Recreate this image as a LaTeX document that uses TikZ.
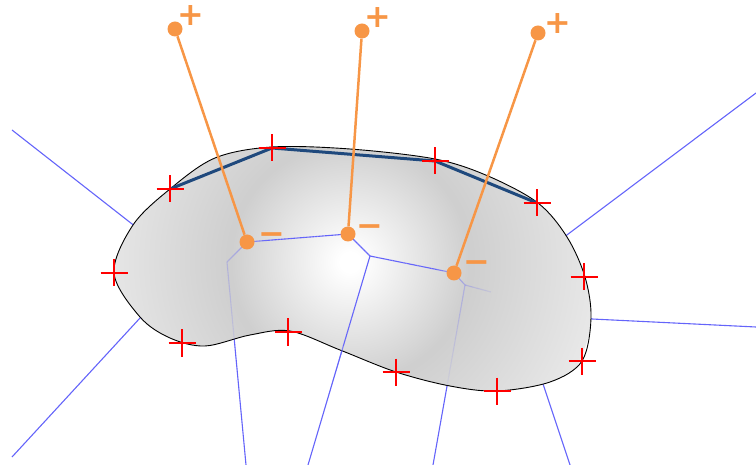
\documentclass[tikz,border=0pt]{standalone}
\usepackage{fontspec}
\newfontfamily\signfont{DejaVu Sans Bold}
\usetikzlibrary{calc}
\definecolor{orng}{RGB}{247,150,70}
\definecolor{vblue}{RGB}{100,100,250}
\definecolor{pblue}{RGB}{31,73,125}
\pgfdeclareradialshading{blobshade}{\pgfpointorigin}{color(0bp)=(white); color(1bp)=(white); color(5bp)=(black!7); color(12bp)=(black!19); color(25bp)=(black!9); color(50bp)=(black!9)}
\tikzset{
  vline/.style={draw=vblue,line width=1.1bp},
  oline/.style={draw=orng,line width=2.5bp},
  pline/.style={draw=pblue,line width=3bp,line join=round},
  dot/.style={circle,fill=orng,minimum size=15bp,inner sep=0pt},
  sign/.style={text=orng,font=\signfont\fontsize{32}{32}\selectfont,inner sep=0pt},
  redplus/.pic={\draw[red,line width=2.6bp] (-13.5,0)--(13.5,0) (0,-13.5)--(0,13.5);}
}
% draws an edge between two named coordinates, fading out away from (ctr)
\newcommand\fadeedge[2]{%
  \foreach \k in {0,...,29}{%
    \pgfmathsetmacro\ta{\k/30}%
    \pgfmathsetmacro\tb{(\k+1)/30}%
    \pgfmathsetmacro\tm{(\k+0.5)/30}%
    \path let \p1=($(#1)!\tm!(#2)$), \p2=(ctr) in
      \pgfextra{\pgfmathparse{min(1,exp(-(veclen(\x1-\x2,\y1-\y2)-85)/28))}\xdef\fadeop{\pgfmathresult}};
    \draw[vline,draw opacity=\fadeop] ($(#1)!\ta!(#2)$) -- ($(#1)!\tb!(#2)$);
  }}
\begin{document}
\begin{tikzpicture}[x=1bp,y=-1bp]
\useasboundingbox (0,0) rectangle (756,465);
\coordinate (ctr) at (350,258);
% Voronoi vertices and ends
\coordinate (H) at (187,267);
\coordinate (A) at (227,262);
\coordinate (D) at (370,256);
\coordinate (F) at (465,285);
\coordinate (G) at (491,292);
\coordinate (TL) at (12,130);
\coordinate (BL) at (12,457);
\coordinate (B1) at (246,465);
\coordinate (B2) at (308,465);
\coordinate (B3) at (433,465);
\coordinate (B4) at (570,465);
\coordinate (R1a) at (592,319);
\coordinate (R1) at (756,327);
\coordinate (B4a) at (543,384);
\coordinate (TR) at (756,93);
% orange point positions
\coordinate (p1) at (175,29);
\coordinate (p2) at (362,31);
\coordinate (p3) at (538,33);
\coordinate (m1) at (247,242);
\coordinate (m2) at (348,234);
\coordinate (m3) at (454,273);
% outer blue lines (under the blob)
\draw[vline] (TL) -- (H) -- (BL);
\draw[vline] (H) -- (A) -- (m1) -- (m2) -- (D) -- (m3) -- (F) -- (G) -- (TR);
\draw[vline] (A) -- (B1);
\draw[vline] (D) -- (B2);
\draw[vline] (F) -- (B3);
\draw[vline] (G) -- (R1a) -- (R1);
\draw[vline] (G) -- (B4a) -- (B4);
% blob
\begin{scope}
\clip plot[smooth cycle, tension=0.55] coordinates {(114,273) (133,225) (170,189) (215,158) (272,147) (350,149) (435,159) (488,176) (538,203) (567,237) (585,277) (591,318) (582,361) (550,382) (497,391) (450,386) (396,372) (340,350) (290,331) (250,335) (205,346) (170,338) (140,317)};
\shade[shading=blobshade] (350,262) circle (250);
\end{scope}
\draw[black,line width=0.9bp] plot[smooth cycle, tension=0.55] coordinates {(114,273) (133,225) (170,189) (215,158) (272,147) (350,149) (435,159) (488,176) (538,203) (567,237) (585,277) (591,318) (582,361) (550,382) (497,391) (450,386) (396,372) (340,350) (290,331) (250,335) (205,346) (170,338) (140,317)};
% interior blue lines, faded away from the centre
\fadeedge{A}{m1}
\fadeedge{m1}{m2}
\fadeedge{m2}{D}
\fadeedge{D}{m3}
\fadeedge{m3}{F}
\fadeedge{F}{G}
\fadeedge{A}{B1}
\fadeedge{D}{B2}
\fadeedge{F}{B3}
% boundary points
\coordinate (c1) at (170,189);
\coordinate (c2) at (272,148);
\coordinate (c3) at (435,161);
\coordinate (c4) at (537,203);
\coordinate (c5) at (584,277);
\coordinate (c6) at (582,361);
\coordinate (c7) at (497,391);
\coordinate (c8) at (396,372);
\coordinate (c9) at (288,332);
\coordinate (c10) at (182,343);
\coordinate (c11) at (114,273);
\draw[pline] (c1) -- (c2) -- (c3) -- (c4);
% orange dots and connectors
\node[dot] (dp1) at (p1) {};
\node[dot] (dp2) at (p2) {};
\node[dot] (dp3) at (p3) {};
\node[dot] (dm1) at (m1) {};
\node[dot] (dm2) at (m2) {};
\node[dot] (dm3) at (m3) {};
\draw[oline] (dp1) -- (dm1);
\draw[oline] (dp2) -- (dm2);
\draw[oline] (dp3) -- (dm3);
% red markers
\foreach \c in {c1,c2,c3,c4,c5,c6,c7,c8,c9,c10,c11} \pic at (\c) {redplus};
% signs
\node[sign] (s1) at (191,16) {+};
\node[sign] (s2) at (378,18) {+};
\node[sign] (s3) at (558,24) {+};
\node[sign,anchor=base] (n1) at (272,245) {−};
\node[sign,anchor=base] (n2) at (370,237) {−};
\node[sign,anchor=base] (n3) at (477,273) {−};
\end{tikzpicture}
\end{document}
